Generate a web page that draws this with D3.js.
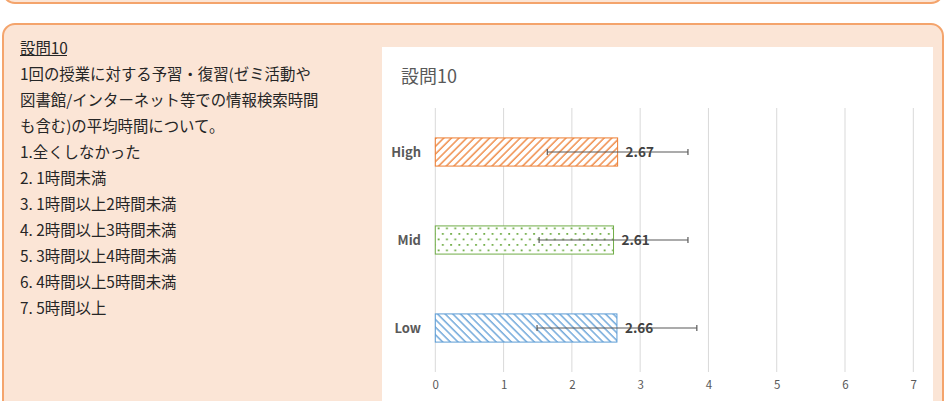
<!DOCTYPE html>
<html><head><meta charset="utf-8">
<script src="https://cdn.jsdelivr.net/npm/d3@7"></script>
<style>
html,body{margin:0;padding:0;background:#fff;}
svg{display:block;}
</style></head>
<body>
<svg id="c" width="944" height="401"></svg>
<script>
const categories = ["High", "Mid", "Low"];
const means = [2.67, 2.61, 2.66];
const sds = [1.03, 1.09, 1.17];
const xTicks = [0, 1, 2, 3, 4, 5, 6, 7];
const chartTitle = "設問10";
const questionHeading = "設問10";
const questionLines = [
  "1回の授業に対する予習・復習(ゼミ活動や",
  "図書館/インターネット等での情報検索時間",
  "も含む)の平均時間について。",
  "1.全くしなかった",
  "2. 1時間未満",
  "3. 1時間以上2時間未満",
  "4. 2時間以上3時間未満",
  "5. 3時間以上4時間未満",
  "6. 4時間以上5時間未満",
  "7. 5時間以上"
];
const colors = {High: "#ED7D31", Mid: "#70AD47", Low: "#5B9BD5"};

const svg = d3.select("#c");
const font = "'Noto Sans CJK JP', 'Noto Sans', sans-serif";

// defs / patterns
const defs = svg.append("defs");
function hatch(id, color, angle) {
  const p = defs.append("pattern").attr("id", id).attr("patternUnits", "userSpaceOnUse")
    .attr("width", 5.4).attr("height", 5.4).attr("patternTransform", `rotate(${angle})`);
  p.append("rect").attr("width", 5.4).attr("height", 5.4).attr("fill", "#fff");
  p.append("line").attr("x1", 1).attr("y1", 0).attr("x2", 1).attr("y2", 5.4)
    .attr("stroke", color).attr("stroke-width", 1.3);
}
hatch("pHigh", colors.High, 45);
hatch("pLow", colors.Low, -45);
const pM = defs.append("pattern").attr("id", "pMid").attr("patternUnits", "userSpaceOnUse")
  .attr("width", 8.3).attr("height", 11);
pM.append("rect").attr("width", 8.3).attr("height", 11).attr("fill", "#fff");
pM.append("rect").attr("x", 2).attr("y", 2).attr("width", 1.8).attr("height", 1.8).attr("fill", colors.Mid);
pM.append("rect").attr("x", 6.15).attr("y", 7.5).attr("width", 1.8).attr("height", 1.8).attr("fill", colors.Mid);
const patId = {High: "url(#pHigh)", Mid: "url(#pMid)", Low: "url(#pLow)"};

// background boxes
svg.append("rect").attr("x", 3).attr("y", -30).attr("width", 940).attr("height", 33)
  .attr("rx", 12).attr("fill", "#FBE5D6").attr("stroke", "#F4A46C").attr("stroke-width", 2);
svg.append("rect").attr("x", 3).attr("y", 24).attr("width", 940).attr("height", 420)
  .attr("rx", 12).attr("fill", "#FBE5D6").attr("stroke", "#F4A46C").attr("stroke-width", 2);

// left text
const tg = svg.append("g").attr("font-family", font).attr("fill", "#262626").attr("font-size", 15.4);
tg.append("text").attr("x", 20).attr("y", 46.7).attr("dominant-baseline", "central").text(questionHeading);
tg.append("line").attr("x1", 20).attr("x2", 67).attr("y1", 55.5).attr("y2", 55.5)
  .attr("stroke", "#262626").attr("stroke-width", 1);
tg.selectAll("text.q").data(questionLines).join("text").attr("class", "q")
  .attr("x", 20).attr("y", (d, i) => 73 + 26 * i).attr("dominant-baseline", "central").text(d => d);

// chart area
svg.append("rect").attr("x", 382).attr("y", 47).attr("width", 551).attr("height", 360).attr("fill", "#fff");
svg.append("text").attr("x", 401).attr("y", 83).attr("font-family", font).attr("font-size", 18)
  .attr("fill", "#595959").text(chartTitle);

const x = d3.scaleLinear().domain([0, 7]).range([435.3, 913.3]);
const y = d3.scaleBand().domain(categories).range([108, 372]).paddingInner(0.68).paddingOuter(0.34);

// gridlines
svg.append("g").selectAll("line").data(xTicks).join("line")
  .attr("x1", d => x(d)).attr("x2", d => x(d)).attr("y1", 108).attr("y2", 372)
  .attr("stroke", "#D9D9D9").attr("stroke-width", 1);

// x axis labels
const xAxis = d3.axisBottom(x).tickValues(xTicks).tickSize(0).tickPadding(0).tickFormat(d3.format("d"));
const ax = svg.append("g").attr("transform", "translate(0,381)").call(xAxis);
ax.select(".domain").remove();
ax.selectAll("text").attr("font-family", font).attr("font-size", 11.5).attr("fill", "#595959");

// y axis labels
const yAxis = d3.axisLeft(y).tickSize(0).tickPadding(0);
const ay = svg.append("g").attr("transform", "translate(421,0)").call(yAxis);
ay.select(".domain").remove();
ay.selectAll("text").attr("font-family", font).attr("font-size", 13).attr("font-weight", "bold")
  .attr("fill", "#595959").attr("dy", "0.35em");

// bars
const data = categories.map((c, i) => ({c, m: means[i], s: sds[i]}));
svg.append("g").selectAll("rect").data(data).join("rect")
  .attr("x", x(0)).attr("y", d => y(d.c)).attr("width", d => x(d.m) - x(0)).attr("height", y.bandwidth())
  .attr("fill", d => patId[d.c]).attr("stroke", d => colors[d.c]).attr("stroke-width", 1);

// value labels
svg.append("g").selectAll("text").data(data).join("text")
  .attr("x", d => x(d.m) + 8).attr("y", d => y(d.c) + y.bandwidth() / 2).attr("dy", "0.35em")
  .attr("font-family", font).attr("font-size", 13.5).attr("font-weight", "bold").attr("fill", "#404040")
  .text(d => d.m.toFixed(2));

// error bars
const eg = svg.append("g").attr("stroke", "#595959").attr("stroke-width", 1.2);
data.forEach(d => {
  const cy = y(d.c) + y.bandwidth() / 2;
  eg.append("line").attr("x1", x(d.m - d.s)).attr("x2", x(d.m + d.s)).attr("y1", cy).attr("y2", cy);
  [d.m - d.s, d.m + d.s].forEach(v => {
    eg.append("line").attr("x1", x(v)).attr("x2", x(v)).attr("y1", cy - 3).attr("y2", cy + 3);
  });
});
</script>
</body></html>
